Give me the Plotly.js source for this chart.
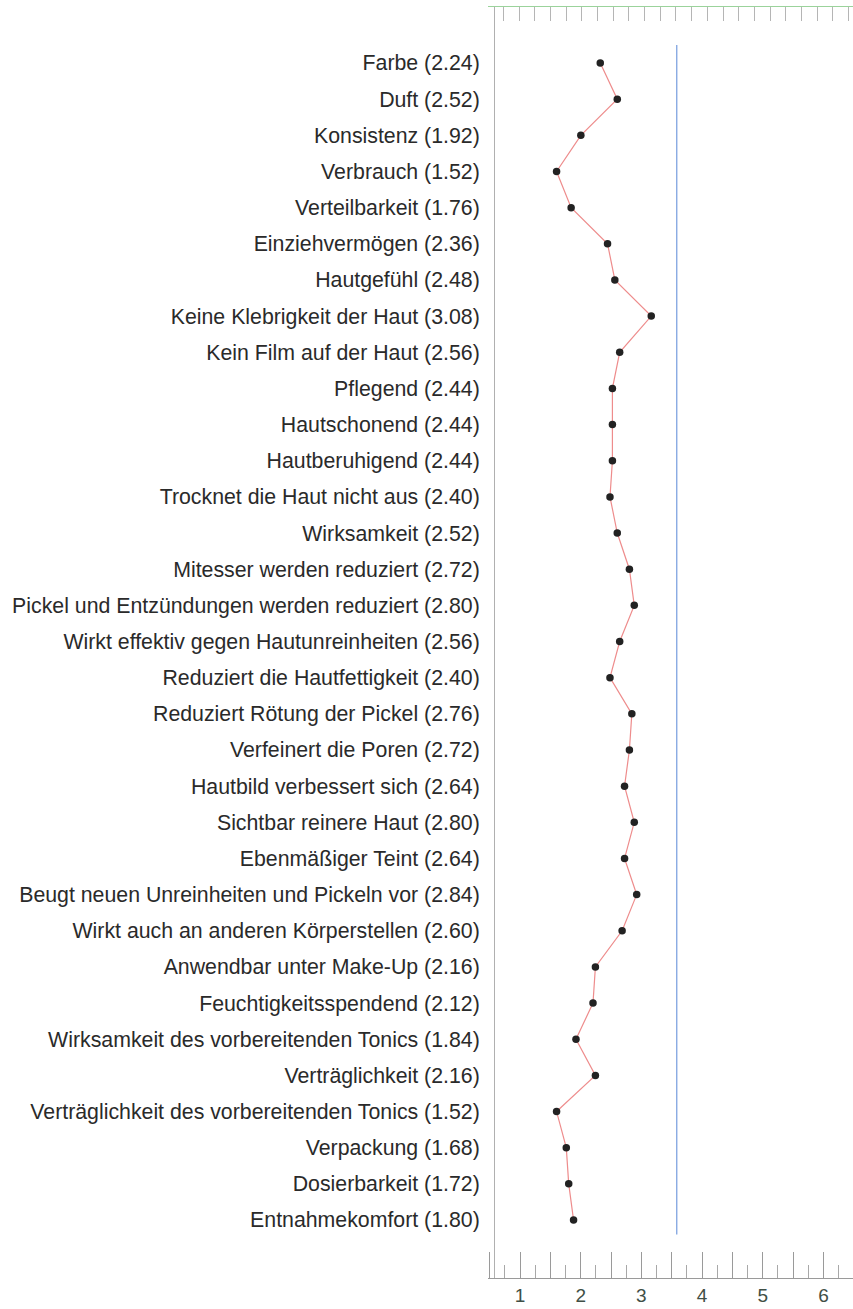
<!DOCTYPE html>
<html>
<head>
<meta charset="utf-8">
<script src="https://cdn.plot.ly/plotly-3.0.1.min.js"></script>
<style>
html,body{margin:0;padding:0;background:#fff;}
#chart{width:853px;height:1309px;}
</style>
</head>
<body>
<div id="chart"></div>
<script>
// ---- data ----
const CATEGORIES = [
  "Farbe", "Duft", "Konsistenz", "Verbrauch", "Verteilbarkeit", "Einziehvermögen",
  "Hautgefühl", "Keine Klebrigkeit der Haut", "Kein Film auf der Haut", "Pflegend",
  "Hautschonend", "Hautberuhigend", "Trocknet die Haut nicht aus", "Wirksamkeit",
  "Mitesser werden reduziert", "Pickel und Entzündungen werden reduziert",
  "Wirkt effektiv gegen Hautunreinheiten", "Reduziert die Hautfettigkeit",
  "Reduziert Rötung der Pickel", "Verfeinert die Poren", "Hautbild verbessert sich",
  "Sichtbar reinere Haut", "Ebenmäßiger Teint", "Beugt neuen Unreinheiten und Pickeln vor",
  "Wirkt auch an anderen Körperstellen", "Anwendbar unter Make-Up", "Feuchtigkeitsspendend",
  "Wirksamkeit des vorbereitenden Tonics", "Verträglichkeit",
  "Verträglichkeit des vorbereitenden Tonics", "Verpackung", "Dosierbarkeit", "Entnahmekomfort"
];
const VALUES = [
  2.24, 2.52, 1.92, 1.52, 1.76, 2.36, 2.48, 3.08, 2.56, 2.44, 2.44, 2.44, 2.40, 2.52,
  2.72, 2.80, 2.56, 2.40, 2.76, 2.72, 2.64, 2.80, 2.64, 2.84, 2.60, 2.16, 2.12, 1.84,
  2.16, 1.52, 1.68, 1.72, 1.80
];
const REFERENCE_VALUE = 3.5;
const SCALE_TICK_VALUES = [0.5, 1, 1.5, 2, 2.5, 3, 3.5, 4, 4.5, 5, 5.5, 6, 6.5];
const SCALE_TICK_TEXT   = ["", "1", "", "2", "", "3", "", "4", "", "5", "", "6", ""];

// ---- build ----
const rowIndex = CATEGORIES.map((c, i) => i);
const rowLabels = CATEGORIES.map((c, i) => c + " (" + VALUES[i].toFixed(2) + ")");

const FONT = "Liberation Sans, Arial, Helvetica, sans-serif";

const traces = [
  // carriers for the bottom and top rulers (draw nothing)
  {x: VALUES, y: rowIndex, xaxis: "x", yaxis: "y", type: "scatter", mode: "none",
   showlegend: false, hoverinfo: "skip"},
  {x: VALUES, y: rowIndex, xaxis: "x2", yaxis: "y", type: "scatter", mode: "none",
   showlegend: false, hoverinfo: "skip"},
  // the profile
  {
    x: VALUES, y: rowIndex, xaxis: "x3", yaxis: "y",
    type: "scatter", mode: "lines+markers",
    line: {color: "#ee8c8c", width: 1.2},
    marker: {color: "#222222", size: 7.5},
    showlegend: false, hoverinfo: "x+y"
  }
];

const layout = {
  width: 853, height: 1309,
  margin: {l: 488, r: 0, t: 7, b: 31, pad: 0},
  paper_bgcolor: "#ffffff", plot_bgcolor: "#ffffff",
  showlegend: false,
  xaxis: {
    domain: [0, 1], range: [0.4728, 6.486], anchor: "y",
    side: "bottom", showgrid: false, zeroline: false,
    showline: true, linecolor: "#9a9a9a", linewidth: 1.2,
    tickmode: "array", tickvals: SCALE_TICK_VALUES, ticktext: SCALE_TICK_TEXT,
    ticks: "inside", ticklen: 26, tickwidth: 1, tickcolor: "#9a9a9a",
    minor: {dtick: 0.25, tick0: 0, ticks: "inside", ticklen: 13, tickwidth: 1, tickcolor: "#a8a8a8", showgrid: false},
    tickfont: {family: FONT, size: 19, color: "#3f4f46"},
    ticklabelstandoff: 0,
    fixedrange: true
  },
  xaxis2: {
    domain: [12/365, 1], range: [0.5058, 6.3213], anchor: "y", overlaying: "x",
    side: "top", showgrid: false, zeroline: false,
    showline: true, linecolor: "#9bd39b", linewidth: 1.2,
    tickmode: "array", tickvals: SCALE_TICK_VALUES, ticktext: SCALE_TICK_VALUES.map(() => ""),
    ticks: "inside", ticklen: 28, tickwidth: 1, tickcolor: "#ababab",
    minor: {dtick: 0.25, tick0: 0, ticks: "inside", ticklen: 14, tickwidth: 1, tickcolor: "#b5b5b5", showgrid: false},
    showticklabels: false,
    fixedrange: true
  },
  xaxis3: {
    domain: [0, 1], range: [0.3904, 6.4036], anchor: "y", overlaying: "x",
    visible: false, fixedrange: true
  },
  yaxis: {
    domain: [0, 1], range: [33.604, -1.549],
    anchor: "free", position: 6/365,
    showgrid: false, zeroline: false,
    showline: true, linecolor: "#b0b0b0", linewidth: 1,
    tickmode: "array", tickvals: rowIndex, ticktext: rowLabels,
    ticks: "", ticklabelstandoff: 10,
    tickfont: {family: FONT, size: 21.3, color: "#2a2a2a"},
    fixedrange: true
  },
  shapes: [
    {
      type: "line", xref: "x3", yref: "y",
      x0: REFERENCE_VALUE, x1: REFERENCE_VALUE, y0: -0.5, y1: 32.4,
      line: {color: "#7fa3e0", width: 1.3}
    }
  ]
};

Plotly.newPlot("chart", traces, layout, {displayModeBar: false, staticPlot: true});
</script>
</body>
</html>
